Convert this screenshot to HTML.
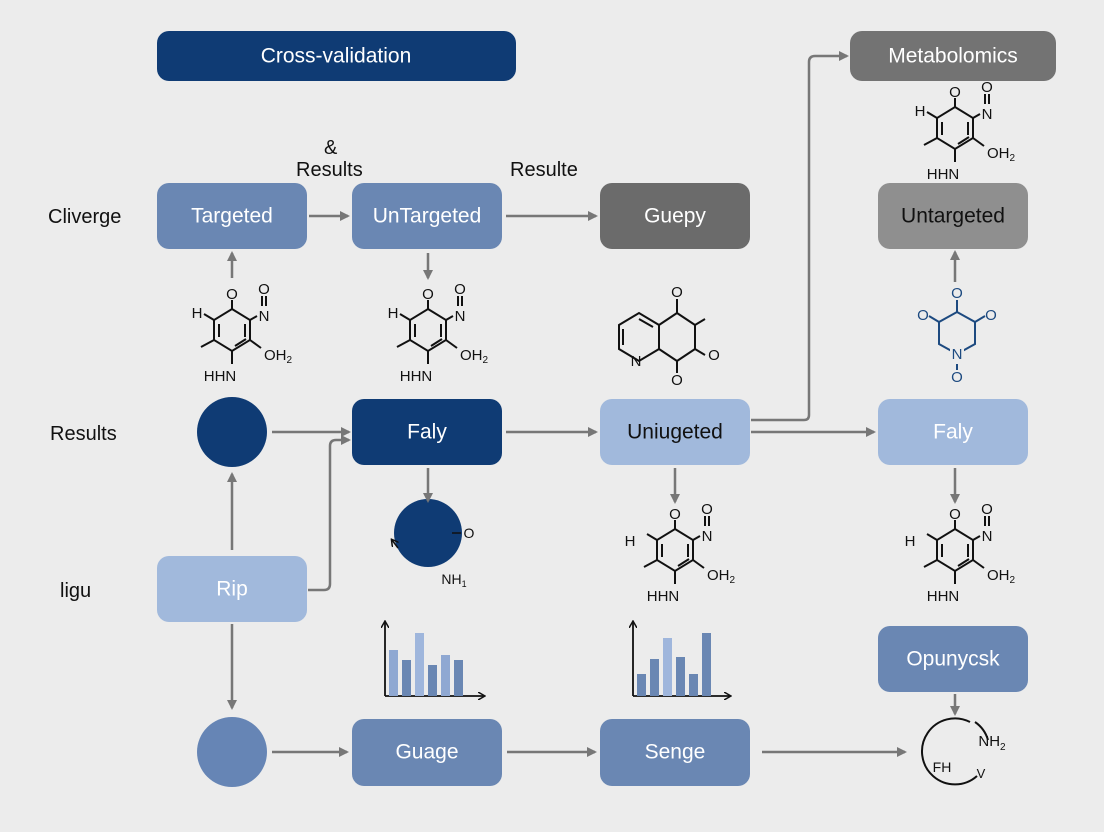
<!DOCTYPE html>
<html><head><meta charset="utf-8"><style>
html,body{margin:0;padding:0;background:#ececec;}
svg{display:block;font-family:"Liberation Sans",sans-serif;}
.bx{font-size:21px;text-anchor:middle;dominant-baseline:central;}
.lb{font-size:20px;fill:#111;}
.m line,.m path,.m polygon{stroke:#111;stroke-width:2;fill:none;}
.m text{font-size:15px;fill:#111;text-anchor:middle;}
.ar{stroke:#777;stroke-width:2.5;fill:none;}
</style></head><body>
<svg width="1104" height="832" viewBox="0 0 1104 832" xmlns="http://www.w3.org/2000/svg">
<defs>
<marker id="ah" markerWidth="10" markerHeight="10" refX="8" refY="5" orient="auto" markerUnits="userSpaceOnUse"><path d="M0,0 L10,5 L0,10 z" fill="#777"/></marker>
<marker id="ak" markerWidth="8" markerHeight="8" refX="6" refY="4" orient="auto" markerUnits="userSpaceOnUse"><path d="M0,0 L7,4 L0,8" fill="none" stroke="#111" stroke-width="1.5"/></marker>
</defs>
<rect width="1104" height="832" fill="#ececec"/>

<rect x="157" y="31" width="359" height="50" rx="12" fill="#0f3b74"/>
<text class="bx" x="336" y="56" fill="#fff">Cross-validation</text>
<rect x="850" y="31" width="206" height="50" rx="12" fill="#737373"/>
<text class="bx" x="953" y="56" fill="#fff">Metabolomics</text>

<text class="lb" x="48" y="223">Cliverge</text>
<text class="lb" x="324" y="154">&amp;</text>
<text class="lb" x="296" y="176">Results</text>
<text class="lb" x="510" y="176">Resulte</text>
<text class="lb" x="50" y="440">Results</text>
<text class="lb" x="60" y="597">ligu</text>

<rect x="157" y="183" width="150" height="66" rx="12" fill="#6a87b3"/>
<text class="bx" x="232" y="216" fill="#fff">Targeted</text>
<rect x="352" y="183" width="150" height="66" rx="12" fill="#6a87b3"/>
<text class="bx" x="427" y="216" fill="#fff">UnTargeted</text>
<rect x="600" y="183" width="150" height="66" rx="12" fill="#6b6b6b"/>
<text class="bx" x="675" y="216" fill="#fff">Guepy</text>
<rect x="878" y="183" width="150" height="66" rx="12" fill="#8f8f8f"/>
<text class="bx" x="953" y="216" fill="#111">Untargeted</text>

<circle cx="232" cy="432" r="35" fill="#0f3b74"/>
<rect x="352" y="399" width="150" height="66" rx="12" fill="#0f3b74"/>
<text class="bx" x="427" y="432" fill="#fff">Faly</text>
<rect x="600" y="399" width="150" height="66" rx="12" fill="#a1b9dc"/>
<text class="bx" x="675" y="432" fill="#111">Uniugeted</text>
<rect x="878" y="399" width="150" height="66" rx="12" fill="#a1b9dc"/>
<text class="bx" x="953" y="432" fill="#fff">Faly</text>

<rect x="157" y="556" width="150" height="66" rx="12" fill="#a1b9dc"/>
<text class="bx" x="232" y="589" fill="#fff">Rip</text>
<circle cx="428" cy="533" r="34" fill="#0f3b74"/>
<path d="M398,548 L392,540" stroke="#111" stroke-width="1.5" marker-end="url(#ak)"/>
<line x1="452" y1="533" x2="461" y2="533" stroke="#111" stroke-width="1.5"/>
<text x="469" y="538" font-size="14" text-anchor="middle" fill="#111">O</text>
<text x="454" y="584" font-size="14" text-anchor="middle" fill="#111">NH<tspan font-size="9" dy="3">1</tspan></text>
<rect x="878" y="626" width="150" height="66" rx="12" fill="#6a87b3"/>
<text class="bx" x="953" y="659" fill="#fff">Opunycsk</text>

<circle cx="232" cy="752" r="35" fill="#6685b5"/>
<rect x="352" y="719" width="150" height="67" rx="12" fill="#6a87b3"/>
<text class="bx" x="427" y="752" fill="#fff">Guage</text>
<rect x="600" y="719" width="150" height="67" rx="12" fill="#6a87b3"/>
<text class="bx" x="675" y="752" fill="#fff">Senge</text>
<path d="M970,722 A33,33 0 1,0 977,776" fill="none" stroke="#111" stroke-width="2"/>
<path d="M975,722 A33,33 0 0,1 988,740" fill="none" stroke="#111" stroke-width="2"/>
<text x="992" y="746" font-size="15" text-anchor="middle" fill="#111">NH<tspan font-size="10" dy="4">2</tspan></text>
<text x="942" y="772" font-size="14" text-anchor="middle" fill="#111">FH</text>
<text x="981" y="778" font-size="13" text-anchor="middle" fill="#111">V</text>

<g stroke="#111" stroke-width="1.8" fill="none">
<line x1="385" y1="696" x2="385" y2="622" marker-end="url(#ak)"/>
<line x1="385" y1="696" x2="484" y2="696" marker-end="url(#ak)"/>
<line x1="633" y1="696" x2="633" y2="622" marker-end="url(#ak)"/>
<line x1="633" y1="696" x2="730" y2="696" marker-end="url(#ak)"/>
</g>
<rect x="389" y="650" width="9" height="46" fill="#8fa8d2"/>
<rect x="402" y="660" width="9" height="36" fill="#6a87b3"/>
<rect x="415" y="633" width="9" height="63" fill="#9fb6dc"/>
<rect x="428" y="665" width="9" height="31" fill="#6a87b3"/>
<rect x="441" y="655" width="9" height="41" fill="#8fa8d2"/>
<rect x="454" y="660" width="9" height="36" fill="#6a87b3"/>
<rect x="637" y="674" width="9" height="22" fill="#6a87b3"/>
<rect x="650" y="659" width="9" height="37" fill="#6a87b3"/>
<rect x="663" y="638" width="9" height="58" fill="#9fb6dc"/>
<rect x="676" y="657" width="9" height="39" fill="#6a87b3"/>
<rect x="689" y="674" width="9" height="22" fill="#6a87b3"/>
<rect x="702" y="633" width="9" height="63" fill="#6a87b3"/>

<g class="ar">
<line x1="309" y1="216" x2="348" y2="216" marker-end="url(#ah)"/>
<line x1="506" y1="216" x2="596" y2="216" marker-end="url(#ah)"/>
<line x1="232" y1="278" x2="232" y2="253" marker-end="url(#ah)"/>
<line x1="428" y1="253" x2="428" y2="278" marker-end="url(#ah)"/>
<line x1="272" y1="432" x2="349" y2="432" marker-end="url(#ah)"/>
<path d="M308,590 L324,590 Q330,590 330,584 L330,446 Q330,440 336,440 L349,440" marker-end="url(#ah)"/>
<line x1="232" y1="550" x2="232" y2="474" marker-end="url(#ah)"/>
<line x1="232" y1="624" x2="232" y2="708" marker-end="url(#ah)"/>
<line x1="506" y1="432" x2="596" y2="432" marker-end="url(#ah)"/>
<line x1="751" y1="432" x2="874" y2="432" marker-end="url(#ah)"/>
<path d="M751,420 L804,420 Q809,420 809,415 L809,62 Q809,56 815,56 L847,56" marker-end="url(#ah)"/>
<line x1="428" y1="468" x2="428" y2="501" marker-end="url(#ah)"/>
<line x1="675" y1="468" x2="675" y2="502" marker-end="url(#ah)"/>
<line x1="955" y1="468" x2="955" y2="502" marker-end="url(#ah)"/>
<line x1="955" y1="282" x2="955" y2="252" marker-end="url(#ah)"/>
<line x1="955" y1="694" x2="955" y2="714" marker-end="url(#ah)"/>
<line x1="272" y1="752" x2="347" y2="752" marker-end="url(#ah)"/>
<line x1="507" y1="752" x2="595" y2="752" marker-end="url(#ah)"/>
<line x1="762" y1="752" x2="905" y2="752" marker-end="url(#ah)"/>
</g>

<g class="m" transform="translate(232,330)">
<polygon points="0,-21 18,-10 18,10 0,21 -18,10 -18,-10"/>
<line x1="-13" y1="-6" x2="-13" y2="7"/><line x1="13" y1="-6" x2="13" y2="7"/><line x1="3" y1="16" x2="14" y2="9"/>
<line x1="0" y1="-21" x2="0" y2="-30"/><text x="0" y="-31">O</text>
<line x1="18" y1="-10" x2="25" y2="-14"/><text x="32" y="-9">N</text>
<line x1="30" y1="-24" x2="30" y2="-34"/><line x1="34" y1="-24" x2="34" y2="-34"/><text x="32" y="-36">O</text>
<line x1="-18" y1="-10" x2="-28" y2="-16"/><text x="-35" y="-12">H</text>
<line x1="-18" y1="10" x2="-31" y2="17"/>
<line x1="18" y1="10" x2="29" y2="18"/><text x="46" y="30">OH<tspan font-size="10" dy="3">2</tspan></text>
<line x1="0" y1="21" x2="0" y2="34"/><text x="-12" y="51">HHN</text>
</g>
<g class="m" transform="translate(428,330)">
<polygon points="0,-21 18,-10 18,10 0,21 -18,10 -18,-10"/>
<line x1="-13" y1="-6" x2="-13" y2="7"/><line x1="13" y1="-6" x2="13" y2="7"/><line x1="3" y1="16" x2="14" y2="9"/>
<line x1="0" y1="-21" x2="0" y2="-30"/><text x="0" y="-31">O</text>
<line x1="18" y1="-10" x2="25" y2="-14"/><text x="32" y="-9">N</text>
<line x1="30" y1="-24" x2="30" y2="-34"/><line x1="34" y1="-24" x2="34" y2="-34"/><text x="32" y="-36">O</text>
<line x1="-18" y1="-10" x2="-28" y2="-16"/><text x="-35" y="-12">H</text>
<line x1="-18" y1="10" x2="-31" y2="17"/>
<line x1="18" y1="10" x2="29" y2="18"/><text x="46" y="30">OH<tspan font-size="10" dy="3">2</tspan></text>
<line x1="0" y1="21" x2="0" y2="34"/><text x="-12" y="51">HHN</text>
</g>
<g class="m" transform="translate(955,128)">
<polygon points="0,-21 18,-10 18,10 0,21 -18,10 -18,-10"/>
<line x1="-13" y1="-6" x2="-13" y2="7"/><line x1="13" y1="-6" x2="13" y2="7"/><line x1="3" y1="16" x2="14" y2="9"/>
<line x1="0" y1="-21" x2="0" y2="-30"/><text x="0" y="-31">O</text>
<line x1="18" y1="-10" x2="25" y2="-14"/><text x="32" y="-9">N</text>
<line x1="30" y1="-24" x2="30" y2="-34"/><line x1="34" y1="-24" x2="34" y2="-34"/><text x="32" y="-36">O</text>
<line x1="-18" y1="-10" x2="-28" y2="-16"/><text x="-35" y="-12">H</text>
<line x1="-18" y1="10" x2="-31" y2="17"/>
<line x1="18" y1="10" x2="29" y2="18"/><text x="46" y="30">OH<tspan font-size="10" dy="3">2</tspan></text>
<line x1="0" y1="21" x2="0" y2="34"/><text x="-12" y="51">HHN</text>
</g>
<g class="m" transform="translate(675,550)">
<polygon points="0,-21 18,-10 18,10 0,21 -18,10 -18,-10"/>
<line x1="-13" y1="-6" x2="-13" y2="7"/><line x1="13" y1="-6" x2="13" y2="7"/><line x1="3" y1="16" x2="14" y2="9"/>
<line x1="0" y1="-21" x2="0" y2="-30"/><text x="0" y="-31">O</text>
<line x1="18" y1="-10" x2="25" y2="-14"/><text x="32" y="-9">N</text>
<line x1="30" y1="-24" x2="30" y2="-34"/><line x1="34" y1="-24" x2="34" y2="-34"/><text x="32" y="-36">O</text>
<line x1="-18" y1="-10" x2="-28" y2="-16"/><text x="-45" y="-4">H</text>
<line x1="-18" y1="10" x2="-31" y2="17"/>
<line x1="18" y1="10" x2="29" y2="18"/><text x="46" y="30">OH<tspan font-size="10" dy="3">2</tspan></text>
<line x1="0" y1="21" x2="0" y2="34"/><text x="-12" y="51">HHN</text>
</g>
<g class="m" transform="translate(955,550)">
<polygon points="0,-21 18,-10 18,10 0,21 -18,10 -18,-10"/>
<line x1="-13" y1="-6" x2="-13" y2="7"/><line x1="13" y1="-6" x2="13" y2="7"/><line x1="3" y1="16" x2="14" y2="9"/>
<line x1="0" y1="-21" x2="0" y2="-30"/><text x="0" y="-31">O</text>
<line x1="18" y1="-10" x2="25" y2="-14"/><text x="32" y="-9">N</text>
<line x1="30" y1="-24" x2="30" y2="-34"/><line x1="34" y1="-24" x2="34" y2="-34"/><text x="32" y="-36">O</text>
<line x1="-18" y1="-10" x2="-28" y2="-16"/><text x="-45" y="-4">H</text>
<line x1="-18" y1="10" x2="-31" y2="17"/>
<line x1="18" y1="10" x2="29" y2="18"/><text x="46" y="30">OH<tspan font-size="10" dy="3">2</tspan></text>
<line x1="0" y1="21" x2="0" y2="34"/><text x="-12" y="51">HHN</text>
</g>

<g class="m" transform="translate(657,337)">
<polygon points="-20,-12 -20,12 0,24 20,12 20,-12 0,-24" transform="translate(-18,0)"/>
<line x1="-34" y1="-8" x2="-34" y2="8"/>
<line x1="-18" y1="-18" x2="-4" y2="-10"/>
<line x1="2" y1="-12" x2="20" y2="-24"/><line x1="20" y1="-24" x2="38" y2="-12"/>
<line x1="38" y1="-12" x2="38" y2="12"/><line x1="38" y1="12" x2="20" y2="24"/><line x1="20" y1="24" x2="2" y2="12"/>
<line x1="20" y1="-24" x2="20" y2="-38"/><text x="20" y="-40">O</text>
<line x1="20" y1="24" x2="20" y2="36"/><text x="20" y="48">O</text>
<line x1="38" y1="12" x2="48" y2="18"/><text x="57" y="23">O</text>
<line x1="38" y1="-12" x2="48" y2="-18"/>
<text x="-21" y="29">N</text>
</g>

<g class="m" transform="translate(957,330)">
<path d="M0,-18 L18,-8 L18,14 L0,24 L-18,14 L-18,-8 Z" style="stroke:#1d4a80"/>
<line x1="0" y1="-18" x2="0" y2="-30" style="stroke:#1d4a80"/>
<line x1="18" y1="-8" x2="28" y2="-14" style="stroke:#1d4a80"/>
<line x1="-18" y1="-8" x2="-28" y2="-14" style="stroke:#1d4a80"/>
<text x="0" y="-32" style="fill:#1d4a80">O</text>
<text x="34" y="-10" style="fill:#1d4a80">O</text>
<text x="-34" y="-10" style="fill:#1d4a80">O</text>
<rect x="-7" y="16" width="14" height="14" fill="#ececec" style="stroke:none"/>
<text x="0" y="29" style="fill:#1d4a80">N</text>
<text x="0" y="52" style="fill:#1d4a80">O</text>
<line x1="0" y1="34" x2="0" y2="40" style="stroke:#1d4a80"/>
</g>
</svg>
</body></html>
